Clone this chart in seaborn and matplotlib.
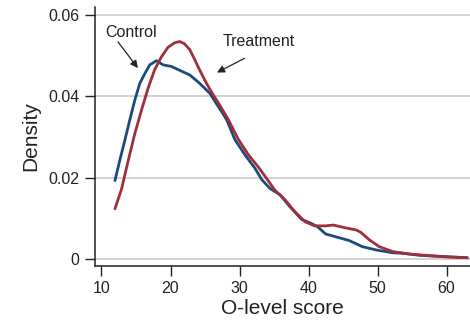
import numpy as np
import pandas as pd
import matplotlib
matplotlib.use("Agg")
import matplotlib.pyplot as plt
import seaborn as sns

# ---- data ----
control_x = [11.95, 12.67, 13.4, 14.1, 14.84, 15.56, 16.3, 17.0, 17.97, 18.9, 20.1, 21.4,
             22.8, 24.2, 25.7, 26.6, 27.6, 28.14, 29.35, 30.8, 32.25, 33.2, 34.4, 35.9,
             37.3, 39.0, 40.4, 41.3, 42.5, 44.0, 45.9, 47.8, 49.8, 52.2, 53.6, 56.0,
             60.0, 63.0]
control_y = [0.0193, 0.0244, 0.0293, 0.0342, 0.0391, 0.0432, 0.0456, 0.0477, 0.0487, 0.0477,
             0.0473, 0.0463, 0.0452, 0.0432, 0.0407, 0.0383, 0.0357, 0.0342, 0.0293, 0.0256,
             0.0223, 0.0196, 0.0174, 0.0158, 0.0129, 0.0098, 0.0088, 0.0080, 0.0062, 0.0055,
             0.0046, 0.0031, 0.0023, 0.0016, 0.0015, 0.0010, 0.0006, 0.0004]

treat_x = [11.95, 12.9, 13.9, 14.84, 15.8, 16.76, 17.7, 18.7, 19.65, 20.6, 21.34, 22.0,
           22.8, 23.5, 24.2, 25.2, 26.2, 27.1, 28.4, 29.8, 31.3, 32.7, 33.9, 35.1, 36.6,
           38.0, 39.5, 40.9, 42.4, 43.6, 45.4, 46.9, 47.6, 48.8, 50.25, 52.2, 54.6, 57.5,
           60.4, 63.0]
treat_y = [0.0124, 0.0172, 0.0244, 0.0309, 0.0366, 0.0420, 0.0465, 0.0497, 0.0520, 0.0531,
           0.0534, 0.0529, 0.0514, 0.0490, 0.0465, 0.0432, 0.0403, 0.0379, 0.0342, 0.0295,
           0.0256, 0.0227, 0.0199, 0.0170, 0.0146, 0.0117, 0.0092, 0.0082, 0.0082, 0.0084,
           0.0077, 0.0072, 0.0066, 0.0048, 0.0031, 0.0019, 0.0013, 0.0009, 0.0006, 0.0004]

x_ticks = [10, 20, 30, 40, 50, 60]
y_ticks = [0, 0.02, 0.04, 0.06]
y_tick_labels = ["0", "0.02", "0.04", "0.06"]

df = pd.concat([
    pd.DataFrame({"score": control_x, "density": control_y, "group": "Control"}),
    pd.DataFrame({"score": treat_x, "density": treat_y, "group": "Treatment"}),
])

sns.set_theme(style="white")
plt.rcParams["font.family"] = ["Liberation Sans", "DejaVu Sans"]

fig = plt.figure(figsize=(4.7, 3.28), dpi=100)
ax = fig.add_axes([0.202, 0.189, 0.798, 0.79])

for y in y_ticks:
    ax.axhline(y, color="#cfcfcf", lw=1.3, zorder=0)

sns.lineplot(data=df, x="score", y="density", hue="group",
             palette={"Control": "#1c4a7a", "Treatment": "#9e2f3b"},
             linewidth=2.0, ax=ax, legend=False, sort=False)

ax.set_xlim(9.05, 63.4)
ax.set_ylim(-0.00164, 0.0619)
ax.set_xticks(x_ticks)
ax.set_yticks(y_ticks)
ax.set_yticklabels(y_tick_labels)
ax.set_xlabel("O-level score", fontsize=15, color="#222222", labelpad=2)
ax.set_ylabel("Density", fontsize=15, color="#222222", labelpad=6)

for s in ["top", "right"]:
    ax.spines[s].set_visible(False)
for s in ["left", "bottom"]:
    ax.spines[s].set_color("#222222")
    ax.spines[s].set_linewidth(1.1)

ax.tick_params(axis="both", which="both", direction="out", length=7, width=1.0,
               color="#222222", labelsize=11.5, labelcolor="#222222", pad=4,
               left=True, bottom=True)

ax.text(14.27, 0.0555, "Control", fontsize=11.5, ha="center", va="center", color="#222222")
ax.annotate("", xy=(15.27, 0.0469), xytext=(12.4, 0.0533),
            arrowprops=dict(arrowstyle="-|>", color="#222222", lw=0.9, mutation_scale=11,
                            shrinkA=0, shrinkB=0))
ax.text(32.8, 0.0534, "Treatment", fontsize=11.5, ha="center", va="center", color="#222222")
ax.annotate("", xy=(26.73, 0.0458), xytext=(30.74, 0.0493),
            arrowprops=dict(arrowstyle="-|>", color="#222222", lw=0.9, mutation_scale=11,
                            shrinkA=0, shrinkB=0))

fig.savefig("out.png", dpi=100)
